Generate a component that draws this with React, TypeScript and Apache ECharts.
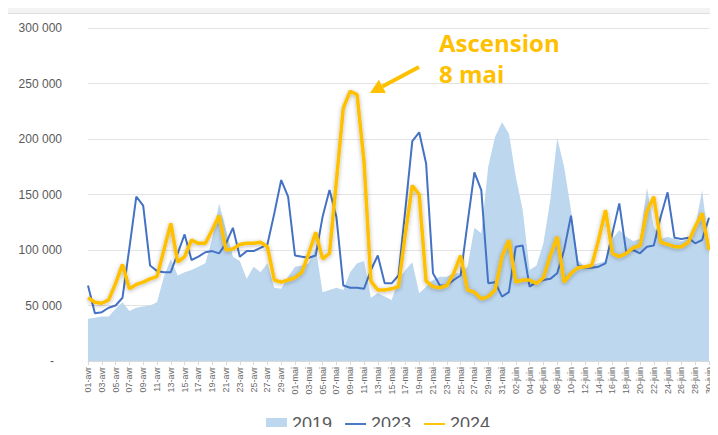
import React, { useEffect, useRef } from "react";
import * as echarts from "echarts";

// Category labels (days from 1 April to 30 June)
const monthNames = ["avr", "mai", "juin"];
const monthLengths = [30, 31, 30];
const categories: string[] = [];
monthNames.forEach((m, mi) => {
  for (let d = 1; d <= monthLengths[mi]; d++) {
    categories.push(`${d < 10 ? "0" + d : d}-${m}`);
  }
});

// Values in thousands
const values2019 = [
  38, 39, 40, 40, 47, 53, 45, 48, 49, 50,
  53, 76, 92, 77, 80, 82, 85, 88, 110, 142,
  118, 94, 90, 74, 85, 80, 88, 66, 65, 76,
  85, 86, 88, 102, 62, 64, 66, 64, 80, 88,
  90, 57, 61, 58, 55, 73, 82, 89, 61, 67,
  73, 76, 76, 79, 79, 85, 120, 115, 175, 202,
  215, 205, 166, 136, 82, 86, 106, 145, 201, 175,
  136, 91, 85, 86, 88, 90, 110, 118, 112, 108,
  110, 156, 121, 110, 112, 110, 108, 110, 120, 154,
  103,
];
const values2023 = [
  68, 43, 44, 48, 50, 57, 102, 148, 140, 86,
  81, 80, 80, 97, 114, 91, 94, 98, 99, 97,
  106, 120, 94, 99, 99, 102, 105, 133, 163, 148,
  95, 94, 93, 95, 130, 154, 130, 68, 66, 66,
  65, 82, 95, 70, 70, 77, 137, 198, 206, 178,
  79, 68, 68, 73, 77, 124, 170, 154, 70, 71,
  58, 62, 103, 104, 67, 71, 73, 74, 79, 100,
  131, 86, 84, 84, 85, 88, 115, 142, 98, 100,
  97, 103, 104, 130, 152, 111, 110, 111, 106, 109,
  129,
];
const values2024 = [
  57, 53, 52, 55, 70, 87, 65, 69, 71, 74,
  76, 100, 124, 89, 94, 109, 106, 106, 118, 131,
  100, 101, 105, 106, 106, 107, 103, 73, 71, 73,
  75, 80, 97, 116, 92, 97, 162, 228, 243, 240,
  180, 72, 64, 64, 65, 67, 115, 158, 150, 72,
  67, 66, 68, 79, 95, 64, 62, 56, 58, 64,
  94, 109, 71, 73, 73, 70, 75, 95, 112, 71,
  79, 84, 85, 86, 109, 136, 97, 94, 97, 102,
  104, 135, 148, 107, 105, 103, 103, 107, 121, 133,
  100,
];
const seriesNames = ["2019", "2023", "2024"];
const annotationLines = ["Ascension", "8 mai"];

const k = (arr: number[]) => arr.map((v) => v * 1000);

const fmt = (v: number) =>
  v === 0 ? "{z|-}" : String(v).replace(/\B(?=(\d{3})+(?!\d))/g, " ");

const lineIcon = "path://M0,0H22V2H0Z";

export default function App() {
  const ref = useRef<HTMLDivElement>(null);
  useEffect(() => {
    if (!ref.current) return;
    const chart = echarts.init(ref.current, undefined, { renderer: "svg" });
    const orange = "#FFC000";
    // arrow geometry
    const tail = [419, 67];
    const tip = [370, 93];
    const dx = tip[0] - tail[0];
    const dy = tip[1] - tail[1];
    const len = Math.sqrt(dx * dx + dy * dy);
    const ux = dx / len;
    const uy = dy / len;
    const headLen = 14;
    const headHalf = 7.5;
    const base = [tip[0] - ux * headLen, tip[1] - uy * headLen];
    const px = -uy * headHalf;
    const py = ux * headHalf;

    chart.setOption({
      animation: false,
      backgroundColor: "transparent",
      textStyle: { fontFamily: "Liberation Sans" },
      grid: { left: 88, right: 9, top: 28, bottom: 74 },
      xAxis: {
        type: "category",
        data: categories,
        boundaryGap: false,
        axisLine: { lineStyle: { color: "#d9d9d9" } },
        axisTick: { show: true, interval: 1, length: 4, lineStyle: { color: "#d9d9d9" } },
        axisLabel: {
          interval: 1,
          rotate: 90,
          fontSize: 9,
          color: "#6a6a6a",
          margin: 6,
        },
        splitLine: { show: false },
      },
      yAxis: {
        type: "value",
        min: 0,
        max: 300000,
        interval: 50000,
        axisLine: { show: false },
        axisTick: { show: false },
        axisLabel: {
          fontSize: 12,
          color: "#595959",
          margin: 26,
          formatter: fmt,
          rich: { z: { fontSize: 12, color: "#595959", padding: [0, 8, 0, 0] } },
        },
        splitLine: { lineStyle: { color: "#e3e3e3", width: 1 } },
      },
      legend: {
        left: 261,
        top: 410,
        itemWidth: 21,
        itemHeight: 12,
        itemGap: 13,
        textStyle: { fontSize: 18, color: "#595959", fontFamily: "Liberation Sans" },
        data: [
          { name: seriesNames[0], icon: "rect" },
          { name: seriesNames[1], icon: lineIcon },
          { name: seriesNames[2], icon: lineIcon },
        ],
      },
      series: [
        {
          name: seriesNames[0],
          type: "line",
          data: k(values2019),
          symbol: "none",
          color: "#bdd7ee",
          lineStyle: { width: 0 },
          areaStyle: { color: "#bdd7ee", opacity: 1 },
          z: 1,
        },
        {
          name: seriesNames[1],
          type: "line",
          data: k(values2023),
          symbol: "none",
          color: "#4472C4",
          lineStyle: { width: 2, color: "#4472C4" },
          z: 2,
        },
        {
          name: seriesNames[2],
          type: "line",
          data: k(values2024),
          symbol: "none",
          color: orange,
          lineStyle: {
            width: 3.5,
            color: orange,
            shadowBlur: 4,
            shadowColor: "rgba(0,0,0,0.3)",
            shadowOffsetY: 1,
          },
          z: 3,
        },
      ],
      graphic: [
        {
          type: "text",
          left: 439,
          top: 30,
          style: {
            text: annotationLines[0],
            fill: orange,
            font: "bold 24px 'Open Sans'",
          },
          z: 10,
        },
        {
          type: "text",
          left: 439,
          top: 61,
          style: {
            text: annotationLines[1],
            fill: orange,
            font: "bold 24px 'Open Sans'",
          },
          z: 10,
        },
        {
          type: "line",
          shape: { x1: tail[0], y1: tail[1], x2: base[0], y2: base[1] },
          style: { stroke: orange, lineWidth: 4 },
          z: 10,
        },
        {
          type: "polygon",
          shape: {
            points: [
              [tip[0], tip[1]],
              [base[0] + px, base[1] + py],
              [base[0] - px, base[1] - py],
            ],
          },
          style: { fill: orange },
          z: 10,
        },
      ],
    });
    return () => chart.dispose();
  }, []);

  return (
    <div style={{ position: "relative", width: 718, height: 435, margin: -8, background: "#f3f3f3" }}>
      <div
        style={{
          position: "absolute",
          left: 5,
          top: 13,
          right: 0,
          bottom: 0,
          background: "#ffffff",
          borderLeft: "1px solid #dcdcdc",
          borderTop: "1px solid #dcdcdc",
        }}
      />
      <div ref={ref} style={{ position: "absolute", left: 0, top: 0, width: 718, height: 435 }} />
    </div>
  );
}
